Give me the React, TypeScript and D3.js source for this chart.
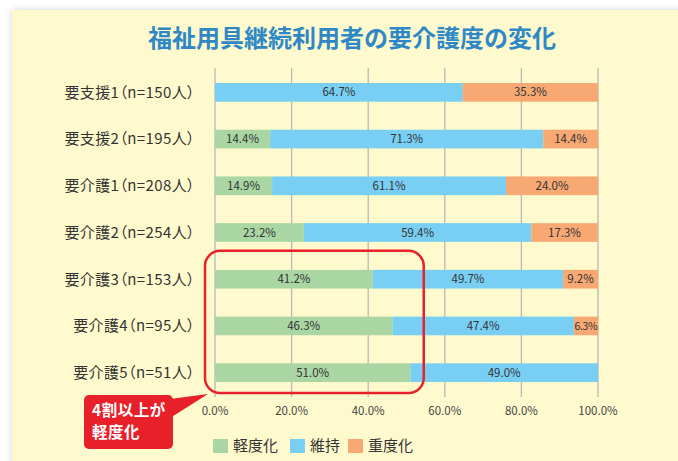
import React from "react";
import * as d3 from "d3";

const categories = [
  "要支援1（n=150人）",
  "要支援2（n=195人）",
  "要介護1（n=208人）",
  "要介護2（n=254人）",
  "要介護3（n=153人）",
  "要介護4（n=95人）",
  "要介護5（n=51人）",
];
const mild = [0, 14.4, 14.9, 23.2, 41.2, 46.3, 51.0];
const maintain = [64.7, 71.3, 61.1, 59.4, 49.7, 47.4, 49.0];
const severe = [35.3, 14.4, 24.0, 17.3, 9.2, 6.3, 0];
const seriesNames = ["軽度化", "維持", "重度化"];
const seriesColors = ["#a9d6a3", "#78cff3", "#f8a873"];
const ticks = [0, 20, 40, 60, 80, 100];
const title = "福祉用具継続利用者の要介護度の変化";
const calloutLines = ["4割以上が", "軽度化"];

const W = 678;
const H = 461;
const FONT = "'Noto Sans CJK JP', 'Noto Sans', sans-serif";

export default function App() {
  const x = d3.scaleLinear().domain([0, 100]).range([215, 598]).clamp(true);
  const y = d3
    .scaleBand<string>()
    .domain(categories)
    .range([69, 396])
    .paddingInner(0.6)
    .paddingOuter(0.3);

  const rows = categories.map((c, i) => ({
    cat: c,
    vals: [mild[i], maintain[i], severe[i]],
  }));

  const stacked = rows.map((r) => {
    let acc = 0;
    return r.vals.map((v, k) => {
      const s = acc;
      acc += v;
      return { k, v, x0: s, x1: acc };
    });
  });

  const hb = {
    x0: x(0) - 10,
    x1: x(54.5),
    y0: (y(categories[4]) as number) - 19,
    y1: (y(categories[6]) as number) + y.bandwidth() + 11,
  };

  const legendX = [213, 290, 348];

  return (
    <div style={{ position: "absolute", left: 0, top: 0 }}>
      <svg width={W} height={H} style={{ display: "block", fontFamily: FONT }}>
        <defs>
          <filter id="sh" x="-5%" y="-5%" width="110%" height="110%">
            <feDropShadow dx="0" dy="0" stdDeviation="3" floodColor="#000" floodOpacity="0.18" />
          </filter>
        </defs>
        <rect x={0} y={0} width={W} height={H} fill="#ffffff" />
        <rect x={12} y={10} width={W - 12 + 20} height={H} fill="#fffacd" filter="url(#sh)" />

        <text x={352} y={47} textAnchor="middle" fontSize={24} fontWeight={700} fill="#2f88c6">
          {title}
        </text>

        {ticks.map((t) => (
          <line
            key={"g" + t}
            x1={x(t)}
            x2={x(t)}
            y1={68}
            y2={397}
            stroke="#b9b9b9"
            strokeWidth={1.3}
          />
        ))}

        {stacked.map((segs, i) => (
          <g key={"r" + i}>
            {segs.map((s) =>
              s.v > 0 ? (
                <rect
                  key={s.k}
                  x={x(s.x0)}
                  y={y(categories[i])}
                  width={x(s.x1) - x(s.x0)}
                  height={y.bandwidth()}
                  fill={seriesColors[s.k]}
                />
              ) : null
            )}
            {segs.map((s) => {
              if (s.v <= 0) return null;
              const w = x(s.x1) - x(s.x0);
              const small = w < 30;
              return (
                <text
                  key={"t" + s.k}
                  x={(x(s.x0) + x(s.x1)) / 2}
                  y={(y(categories[i]) as number) + y.bandwidth() / 2}
                  dy="0.36em"
                  textAnchor="middle"
                  fontSize={small ? 10.5 : 11.5}
                  letterSpacing={small ? -0.4 : 0}
                  fill="#333"
                >
                  {s.v.toFixed(1) + "%"}
                </text>
              );
            })}
            <text
              x={195}
              y={(y(categories[i]) as number) + y.bandwidth() / 2}
              dy="0.36em"
              textAnchor="end"
              fontSize={15}
              letterSpacing={0.4}
              fill="#333"
              style={{ fontFeatureSettings: "'palt'" }}
            >
              {categories[i]}
            </text>
          </g>
        ))}

        {ticks.map((t) => (
          <text
            key={"tl" + t}
            x={x(t)}
            y={411}
            dy="0.36em"
            textAnchor="middle"
            fontSize={11.5}
            fill="#444"
          >
            {t.toFixed(1) + "%"}
          </text>
        ))}

        <rect
          x={hb.x0}
          y={hb.y0}
          width={hb.x1 - hb.x0}
          height={hb.y1 - hb.y0}
          rx={15}
          ry={15}
          fill="none"
          stroke="#e8202a"
          strokeWidth={2.5}
        />

        <rect x={84} y={395} width={89} height={54} rx={5} ry={5} fill="#e8202a" />
        <path d="M170,399 L208,394 L170,418 Z" fill="#e8202a" />
        {calloutLines.map((l, i) => (
          <text
            key={"c" + i}
            x={92}
            y={416 + i * 22}
            fontSize={15.5}
            fontWeight={700}
            letterSpacing={0.5}
            fill="#ffffff"
          >
            {l}
          </text>
        ))}

        {seriesNames.map((n, i) => (
          <g key={"lg" + i}>
            <rect x={legendX[i]} y={439} width={15} height={14} fill={seriesColors[i]} />
            <text x={legendX[i] + 20} y={446} dy="0.36em" fontSize={15} fill="#333">
              {n}
            </text>
          </g>
        ))}
      </svg>
    </div>
  );
}
